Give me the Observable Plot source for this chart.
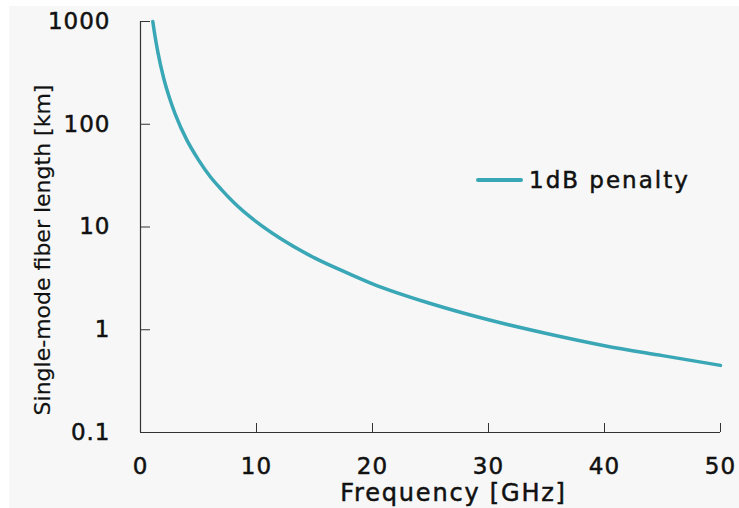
<!DOCTYPE html>
<html><head><meta charset="utf-8">
<script src="https://cdn.jsdelivr.net/npm/d3@7"></script>
<script src="https://cdn.jsdelivr.net/npm/@observablehq/plot@0.6"></script>
<style>
body{margin:0;background:#fff;}
#wrap{position:relative;width:739px;height:508px;overflow:hidden;}
#bg{position:absolute;left:9px;top:6px;right:0;bottom:0;background:#f7f7f7;}
#chart{position:absolute;left:0;top:0;}
#chart svg text{letter-spacing:1px;stroke:#111;stroke-width:0.5px;}
#chart svg text.ytitle{letter-spacing:0;stroke-width:0.2px;}
#chart svg text.xtitle{letter-spacing:1.8px;}
#legend{position:absolute;left:476px;top:166px;height:28px;display:flex;align-items:center;font-family:"DejaVu Sans";font-size:23px;color:#111;letter-spacing:2px;-webkit-text-stroke:0.5px #111;}
#legend .sw{width:47px;height:4px;border-radius:2px;background:#3aa7b6;margin-right:6px;-webkit-text-stroke:0;}
</style></head>
<body>
<div id="wrap"><div id="bg"></div><div id="chart"></div>
<div id="legend"><span class="sw"></span><span id="legtext"></span></div></div>
<script>
const frequency = [1.06, 1.2, 1.5, 2, 2.5, 3, 4, 5, 6, 7, 8, 10, 12, 15, 18, 20, 25, 30, 35, 40, 45, 50];
const fiberLength = [1000, 780, 500, 280, 180, 125, 70, 45, 31, 23, 17.5, 11.2, 7.8, 5, 3.5, 2.8, 1.8, 1.25, 0.92, 0.7, 0.56, 0.45];
const xTicks = [0, 10, 20, 30, 40, 50];
const yTicks = [0.1, 1, 10, 100, 1000];
const yTickLabels = ["0.1", "1", "10", "100", "1000"];
const xTitle = "Frequency [GHz]";
const yTitle = "Single-mode fiber length [km]";
const seriesName = "1dB penalty";

document.getElementById("legtext").textContent = seriesName;
const data = frequency.map((f, i) => ({f, L: fiberLength[i]}));

const chart = Plot.plot({
  width: 739, height: 508,
  marginLeft: 140, marginRight: 19, marginTop: 21, marginBottom: 76,
  style: {background: "transparent", fontFamily: "DejaVu Sans", fontSize: "23px", color: "#111"},
  x: {domain: [0, 50]},
  y: {type: "log", domain: [0.1, 1000]},
  marks: [
    Plot.ruleX([0], {stroke: "#333", strokeWidth: 1.2}),
    Plot.ruleY([0.1], {stroke: "#333", strokeWidth: 1.2}),
    Plot.axisX(xTicks, {tickSize: -9, tickPadding: 34, label: null, stroke: "#333", fill: "#111"}),
    Plot.axisY(yTicks, {tickSize: -10, tickPadding: 40, label: null, stroke: "#333", fill: "#111",
      tickFormat: d => yTickLabels[yTicks.indexOf(d)]}),
    Plot.line(data, {x: "f", y: "L", curve: "monotone-x", stroke: "#3aa7b6", strokeWidth: 3.5}),
    Plot.text([xTitle], {text: d => d, frameAnchor: "bottom", lineAnchor: "middle", dx: 23, dy: 61, fill: "#111", fontSize: 24, className: "xtitle"}),
    Plot.text([yTitle], {text: d => d, frameAnchor: "left", textAnchor: "middle", rotate: -90, dx: -98, dy: 23, fill: "#111", fontSize: 22, className: "ytitle"})
  ]
});
chart.querySelectorAll("g[aria-label='text']").forEach((g, i) => {
  g.querySelectorAll("text").forEach(t => t.classList.add(i === 0 ? "xtitle" : "ytitle"));
});
document.getElementById("chart").appendChild(chart);
</script>
</body></html>
